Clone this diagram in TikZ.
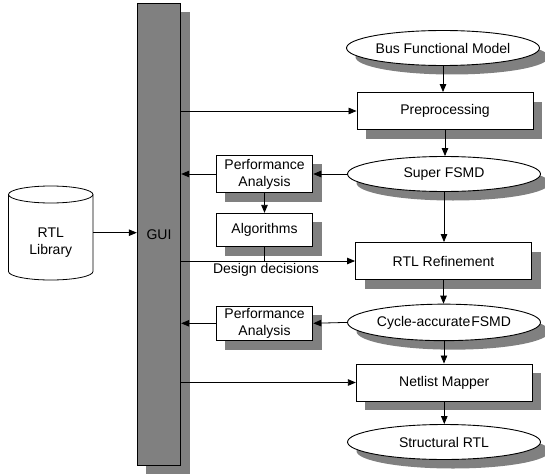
\documentclass[tikz,border=0pt]{standalone}
\usepackage{fontspec}
\setmainfont{Liberation Sans}
\usetikzlibrary{shapes.geometric,shadows,arrows.meta}
\definecolor{shd}{gray}{0.5}
\begin{document}
\begin{tikzpicture}[x=1pt,y=1pt,
  font=\fontsize{14}{17}\selectfont,
  shd/.style={drop shadow={shadow xshift=9pt,shadow yshift=-9pt,fill=shd,opacity=1}},
  box/.style={draw,fill=white,line width=0.9pt,inner sep=0pt,align=center,shd},
  bigbox/.style={box,minimum width=176pt,minimum height=37pt},
  smallbox/.style={box,minimum width=96.6pt,minimum height=36pt},
  ell/.style={ellipse,draw,fill=white,line width=0.9pt,inner sep=0pt,minimum width=193pt,minimum height=35pt,shd},
  arr/.style={line width=0.8pt,-{Triangle[length=8pt,width=6.5pt]}},
  ln/.style={line width=0.8pt}]
\useasboundingbox (0,0) rectangle (545,475);
% GUI bar
\node[draw,line width=1pt,fill=shd,minimum width=43.4pt,minimum height=461.5pt,inner sep=0pt,shd] (gui) at (159,240.75) {};
\node (guil) at (159,240) {GUI};
% RTL library cylinder
\filldraw[fill=white,line width=0.8pt] (8.5,280.5) -- (8.5,203.5) arc[start angle=180,end angle=360,x radius=42.25,y radius=8.5] -- (93,280.5) arc[start angle=0,end angle=180,x radius=42.25,y radius=8.5] -- cycle;
\draw[line width=0.8pt] (8.5,280.5) arc[start angle=180,end angle=360,x radius=42.25,y radius=8.5];
\node[align=center] (lib) at (50.8,232) {RTL\\Library};
\coordinate (libE) at (93,242.3);
% right column
\node[ell] (bfm) at (443,427) {Bus Functional Model};
\node[bigbox] (pre) at (445,364) {Preprocessing};
\node[ell] (sf) at (444,301) {Super FSMD};
\node[bigbox] (rtl) at (443.5,214) {RTL Refinement};
\node[ell,minimum height=36.5pt] (cyc) at (444,152.6) {Cycle-accurate\kern1pt FSMD};
\node[bigbox] (net) at (444.3,92.5) {Netlist Mapper};
\node[ell] (str) at (444,33) {Structural RTL};
% middle column
\node[smallbox,minimum height=37.7pt] (pa1) at (264.5,301) {Performance\\Analysis};
\node[smallbox,minimum height=33.4pt] (alg) at (264.5,245) {Algorithms};
\node[smallbox,minimum height=34.7pt] (pa2) at (264.5,151.7) {Performance\\Analysis};
\node (dd) at (266,205) {Design decisions};
% connectors
\draw[arr] (libE) -- (libE -| gui.west);
\draw[arr] (gui.east |- pre.west) -- (pre.west);
\draw[arr] (bfm.south) -- (bfm.south |- pre.north);
\draw[arr] (pre.south) -- (pre.south |- sf.north);
\draw[arr] (sf.south) -- (sf.south |- rtl.north);
\draw[arr] (rtl.south) -- (rtl.south |- cyc.north);
\draw[arr] (cyc.south) -- (cyc.south |- net.north);
\draw[arr] (net.south) -- (net.south |- str.north);
\draw[arr] (sf.west) -- (pa1.east);
\draw[arr] (pa1.west) -- (pa1.west -| gui.east);
\draw[arr] (pa1.south) -- (alg.north);
\draw[ln] (alg.south) -- (alg.south |- rtl.west);
\draw[arr] (gui.east |- rtl.west) -- (rtl.west);
\draw[arr] (cyc.west) -- (pa2.east);
\draw[arr] (pa2.west) -- (pa2.west -| gui.east);
\draw[arr] (gui.east |- net.west) -- (net.west);
\end{tikzpicture}
\end{document}
